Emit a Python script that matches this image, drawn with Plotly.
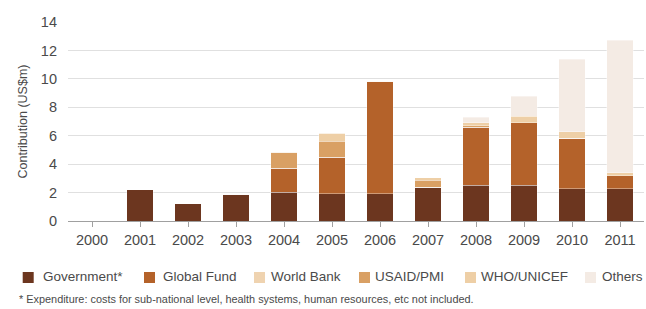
import plotly.graph_objects as go

years = ["2000", "2001", "2002", "2003", "2004", "2005", "2006", "2007", "2008", "2009", "2010", "2011"]
government = [0, 2.2, 1.2, 1.88, 2.03, 1.93, 1.93, 2.38, 2.5, 2.5, 2.28, 2.28]
global_fund = [0, 0, 0, 0, 1.67, 2.54, 7.89, 0, 4.1, 4.42, 3.53, 0.92]
world_bank = [0, 0, 0, 0, 0, 0, 0, 0, 0, 0, 0, 0]
usaid_pmi = [0, 0, 0, 0, 1.15, 1.13, 0, 0.47, 0.1, 0, 0, 0]
who_unicef = [0, 0, 0, 0, 0, 0.59, 0, 0.19, 0.2, 0.45, 0.48, 0.21]
others = [0, 0, 0, 0, 0, 0, 0, 0, 0.4, 1.39, 5.08, 9.3]

series_names = ["Government*", "Global Fund", "World Bank", "USAID/PMI", "WHO/UNICEF", "Others"]
series_values = [government, global_fund, world_bank, usaid_pmi, who_unicef, others]
series_colors = ["#6c361f", "#b4622a", "#efd3b0", "#d9a064", "#eecfa6", "#f4ebe4"]
footnote = "* Expenditure: costs for sub-national level, health systems, human resources, etc not included."

FONT = "Liberation Sans, Arial, sans-serif"
TXT = "#4a4a4a"

W, H = 646, 309
PLOT_L, PLOT_R, PLOT_T, PLOT_B = 68, 644, 22, 221
ML, MT, MR, MB = PLOT_L, PLOT_T, W - PLOT_R, H - PLOT_B
PW, PH = W - ML - MR, H - MT - MB


def px_x(px):
    return (px - PLOT_L) / PW


def px_y(py):
    return (PLOT_B - py) / PH


fig = go.Figure()
for name, vals, col in zip(series_names, series_values, series_colors):
    fig.add_trace(go.Bar(
        x=years, y=vals, name=name, showlegend=False,
        marker=dict(color=col, line=dict(color="rgba(255,255,255,0.45)", width=0.8)),
    ))

# manual legend (positions in window pixels)
swatch_left = [22.7, 144, 254, 359, 465, 585]
text_left = [40.5, 161, 269, 373, 479, 600]
shapes, annotations = [], []
for name, col, sx, tx in zip(series_names, series_colors, swatch_left, text_left):
    shapes.append(dict(type="rect", xref="paper", yref="paper",
                       x0=px_x(sx), x1=px_x(sx + 11), y0=px_y(283), y1=px_y(272),
                       fillcolor=col, line=dict(width=0)))
    annotations.append(dict(text=name, xref="paper", yref="paper", x=px_x(tx), y=px_y(276.5),
                            xanchor="left", yanchor="middle", showarrow=False,
                            font=dict(family=FONT, size=13.5, color=TXT)))
annotations.append(dict(
    text=footnote, xref="paper", yref="paper", x=px_x(17), y=px_y(299),
    xanchor="left", yanchor="middle", showarrow=False,
    font=dict(family=FONT, size=10.9, color=TXT),
))

fig.update_layout(
    width=W, height=H,
    barmode="stack", bargap=0.45,
    paper_bgcolor="white", plot_bgcolor="white",
    margin=dict(l=ML, r=MR, t=MT, b=MB, autoexpand=False),
    font=dict(family=FONT, size=14.5, color=TXT),
    showlegend=False,
    xaxis=dict(
        type="category", showgrid=False, automargin=False,
        showline=True, linecolor="#a0a0a0", linewidth=1.2,
        ticks="outside", ticklen=5, tickcolor="#a0a0a0",
        tickfont=dict(family=FONT, size=14.5, color=TXT),
    ),
    yaxis=dict(
        range=[0, 14], dtick=2, showgrid=True, gridcolor="#e0e0e0", gridwidth=1.2,
        zeroline=False, showline=False, ticks="", automargin=False,
        ticklabelstandoff=10,
        tickfont=dict(family=FONT, size=14.5, color=TXT),
        title=dict(text="Contribution (US$m)", font=dict(family=FONT, size=12.5, color=TXT), standoff=10),
    ),
    shapes=shapes,
    annotations=annotations,
)

fig.write_html(
    "out.html",
    config={"displayModeBar": False},
    post_script="document.body.style.margin='0';document.body.style.overflow='hidden';",
)
